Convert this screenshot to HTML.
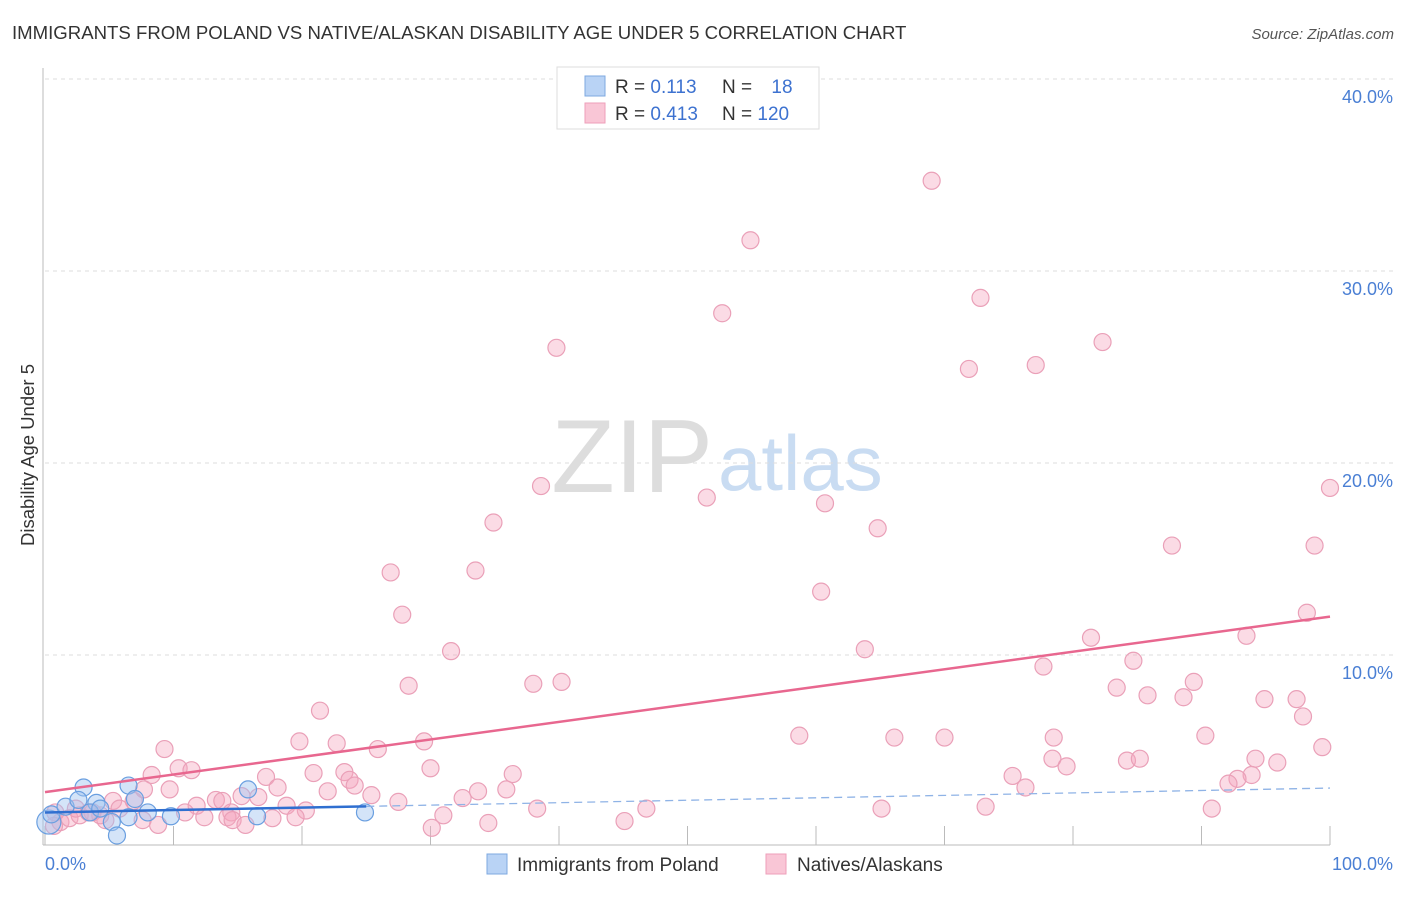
<!DOCTYPE html>
<html><head><meta charset="utf-8"><style>
body{margin:0;background:#fff;font-family:"Liberation Sans",sans-serif;}
svg text{font-family:"Liberation Sans",sans-serif;}
</style></head><body>
<svg id="c" width="1406" height="892" xmlns="http://www.w3.org/2000/svg">
<text x="12" y="39" font-size="18.6" fill="#333">IMMIGRANTS FROM POLAND VS NATIVE/ALASKAN DISABILITY AGE UNDER 5 CORRELATION CHART</text>
<text x="1394" y="39" font-size="15" fill="#555" text-anchor="end" font-style="italic">Source: ZipAtlas.com</text>
<text x="713" y="492" font-size="104" fill="#ddd" font-family="Liberation Serif" text-anchor="end">ZIP</text>
<text x="718" y="490" font-size="78" fill="#c9dcf2">atlas</text>
<g id="grid"></g><g id="pts"></g><g id="lines"></g>
<text transform="translate(34,455) rotate(-90)" font-size="18.5" fill="#333" text-anchor="middle">Disability Age Under 5</text>
<text x="45" y="870" font-size="18" fill="#4a7fd4">0.0%</text>
<text x="1393" y="870" font-size="18" fill="#4a7fd4" text-anchor="end">100.0%</text>
<g>
<rect x="557" y="67" width="262" height="62" fill="#fff" stroke="#ddd"/>
<rect x="585" y="76" width="20" height="20" fill="#b9d3f5" stroke="#7ea8e0"/>
<rect x="585" y="103" width="20" height="20" fill="#f9c6d6" stroke="#ee9fba"/>
<text x="615" y="93" font-size="19" fill="#333">R = <tspan fill="#3d72d0">0.113</tspan></text>
<text x="722" y="93" font-size="19" fill="#333">N = <tspan fill="#3d72d0" dx="14">18</tspan></text>
<text x="615" y="120" font-size="19" fill="#333">R = <tspan fill="#3d72d0">0.413</tspan></text>
<text x="722" y="120" font-size="19" fill="#333">N = <tspan fill="#3d72d0">120</tspan></text>
</g>
<g>
<rect x="487" y="854" width="20" height="20" fill="#b9d3f5" stroke="#7ea8e0"/>
<text x="517" y="871" font-size="19" fill="#333">Immigrants from Poland</text>
<rect x="766" y="854" width="20" height="20" fill="#f9c6d6" stroke="#ee9fba"/>
<text x="797" y="871" font-size="19" fill="#333">Natives/Alaskans</text>
</g>
</svg>
<script>
const yTicks=[10,20,30,40];
const yTickLabels=["10.0%","20.0%","30.0%","40.0%"];
const xTicks=[0,10,20,30,40,50,60,70,80,90,100];
const pinkX=[69.0,54.9,72.8,52.7,39.8,82.3,71.9,77.1,38.6,51.5,60.7,100,34.9,64.8,87.7,98.8,26.9,33.5,60.4,27.8,98.2,93.5,81.4,31.6,63.8,84.7,77.7,28.3,38.0,40.2,89.4,83.4,85.8,88.6,94.9,97.4,97.9,21.4,58.7,66.1,70.0,78.5,90.3,19.8,22.7,29.5,25.9,99.4,9.3,78.4,84.2,85.2,94.2,95.9,79.5,30.0,10.4,11.4,8.3,17.2,20.9,36.4,75.3,93.9,92.8,92.1,76.3,23.3,23.7,24.1,18.1,9.7,7.7,22.0,33.7,35.9,25.4,15.3,16.6,13.3,5.3,6.9,13.8,27.5,32.5,11.8,18.8,20.3,10.9,14.5,38.3,46.8,65.1,73.2,90.8,31.0,12.4,14.2,17.7,19.5,14.6,4.7,7.6,34.5,45.1,15.6,8.8,30.1,1.2,1.9,2.7,3.7,4.3,0.8,5.8,2.4,0.7,3.4];
const pinkY=[34.7,31.6,28.6,27.8,26.0,26.3,24.9,25.1,18.8,18.2,17.9,18.7,16.9,16.6,15.7,15.7,14.3,14.4,13.3,12.1,12.2,11.0,10.9,10.2,10.3,9.7,9.4,8.4,8.5,8.6,8.6,8.3,7.9,7.8,7.7,7.7,6.8,7.1,5.8,5.7,5.7,5.7,5.8,5.5,5.4,5.5,5.1,5.2,5.1,4.6,4.5,4.6,4.6,4.4,4.2,4.1,4.1,4.0,3.75,3.65,3.85,3.8,3.7,3.75,3.55,3.3,3.1,3.9,3.5,3.2,3.1,3.0,3.0,2.9,2.9,3.0,2.7,2.65,2.6,2.45,2.4,2.4,2.4,2.35,2.55,2.15,2.15,1.9,1.8,1.8,2.0,2.0,2.0,2.1,2.0,1.65,1.55,1.55,1.5,1.55,1.4,1.4,1.4,1.25,1.35,1.15,1.15,1.0,1.3,1.5,1.65,1.8,1.65,1.8,2.0,2.0,1.1,1.8];
const blueX=[0.3,0.5,1.6,3.0,2.6,4.0,3.5,5.2,5.6,6.5,7.0,6.5,8.0,9.8,15.8,16.5,24.9,4.3];
const blueY=[1.3,1.7,2.1,3.1,2.45,2.3,1.8,1.3,0.6,3.2,2.5,1.55,1.8,1.6,3.0,1.6,1.8,2.0];
const pinkTrend=[2.86,12.0];
const blueTrend=[1.8,3.07];
const blueSolidEnd=25;
const NS="http://www.w3.org/2000/svg";
const X=v=>45+v*12.85, Y=v=>847-v*19.2;
function mk(t,a,p){const e=document.createElementNS(NS,t);for(const k in a)e.setAttribute(k,a[k]);p.appendChild(e);return e;}
const grid=document.getElementById('grid');
yTicks.forEach((t,i)=>{
 const l=mk('line',{x1:45,x2:1393,y1:Y(t),y2:Y(t),stroke:'#ddd','stroke-dasharray':'4,4'},grid);
 
 
 const tx=mk('text',{x:1393,y:Y(t)+24,'font-size':18,fill:'#4a7fd4','text-anchor':'end'},grid);
 tx.textContent=yTickLabels[i];
 
 
});
const ax=mk('line',{x1:43,x2:43,y1:68,y2:845,stroke:'#bbb'},grid);


const bx=mk('line',{x1:43,x2:1330,y1:845,y2:845,stroke:'#bbb'},grid);


xTicks.forEach(t=>{const l=mk('line',{x1:X(t),x2:X(t),y1:826,y2:845,stroke:'#bbb'},grid);
 
 });
const pts=document.getElementById('pts');
pinkX.forEach((v,i)=>{const c=mk('circle',{cx:X(v),cy:Y(pinkY[i]),r:8.5,fill:'rgba(245,165,190,0.4)',stroke:'#eaa0b8','stroke-width':1.2},pts);
 
 });
blueX.forEach((v,i)=>{const c=mk('circle',{cx:X(v),cy:Y(blueY[i]),r:i==0?12:8.5,fill:'rgba(160,195,240,0.45)',stroke:'#6a9fe0','stroke-width':1.2},pts);
 
 });
const lines=document.getElementById('lines');
const bt=v=>blueTrend[0]+(blueTrend[1]-blueTrend[0])*v/100;
const l1=mk('line',{x1:X(0),y1:Y(pinkTrend[0]),x2:X(100),y2:Y(pinkTrend[1]),stroke:'#e8678f','stroke-width':2.5},lines);


const l2=mk('line',{x1:X(blueSolidEnd),y1:Y(bt(blueSolidEnd)),x2:X(100),y2:Y(bt(100)),stroke:'#8fb3e6','stroke-width':1.3,'stroke-dasharray':'8,5'},lines);


const l3=mk('line',{x1:X(0),y1:Y(bt(0)),x2:X(blueSolidEnd),y2:Y(bt(blueSolidEnd)),stroke:'#2f6fd0','stroke-width':2.5},lines);


</script>
</body></html>
